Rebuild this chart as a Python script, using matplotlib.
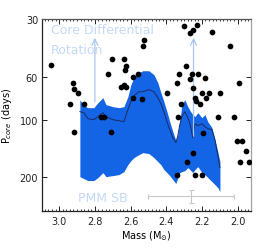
import matplotlib
matplotlib.use("Agg")
import matplotlib.pyplot as plt
from matplotlib.ticker import FixedLocator, MultipleLocator, NullLocator, FixedFormatter

# ---- data ----
star_mass = [3.047, 2.923, 2.918, 2.895, 2.940, 2.862, 2.766, 2.749, 2.705, 2.637,
             2.626, 2.632, 2.727, 2.654, 2.626, 2.637, 2.587, 2.559, 2.587, 2.536,
             2.525, 2.531, 2.396, 2.301, 2.267, 2.251, 2.228, 2.144, 2.043, 2.290,
             2.329, 2.340, 2.256, 2.223, 2.267, 2.183, 1.993, 2.251, 2.200, 2.161,
             2.099, 2.178, 2.239, 2.234, 2.211, 2.318, 2.335, 2.111, 2.021, 2.918,
             2.710, 2.194, 2.004, 1.976, 1.954, 2.251, 2.284, 1.988, 1.937, 2.340,
             2.239, 2.200]
star_pcore = [51.8, 64.3, 69.1, 72.4, 82.6, 82.6, 96.5, 96.5, 48.2, 48.2,
              52.4, 55.0, 57.7, 67.4, 67.4, 65.8, 59.8, 57.7, 76.9, 77.8,
              38.4, 41.3, 72.4, 32.5, 35.3, 34.1, 32.1, 34.9, 41.3, 52.4,
              57.7, 64.3, 57.7, 57.7, 61.3, 60.5, 64.3, 68.2, 72.4, 72.4,
              72.4, 76.9, 76.9, 79.7, 82.6, 82.6, 96.5, 96.5, 96.5, 115.5,
              115.5, 116.9, 128.6, 128.6, 145.0, 148.5, 165.4, 165.4, 165.4, 193.2,
              193.2, 193.2]

model_mass = [2.884, 2.862, 2.839, 2.806, 2.783, 2.755, 2.738, 2.699, 2.665, 2.637,
              2.615, 2.598, 2.581, 2.553, 2.531, 2.497, 2.469, 2.447, 2.430, 2.413,
              2.396, 2.380, 2.363, 2.346, 2.335, 2.324, 2.312, 2.296, 2.279, 2.267,
              2.251, 2.239, 2.223, 2.200, 2.183, 2.167, 2.144, 2.127, 2.111, 2.099]
model_p_low = [78.8, 84.6, 86.7, 86.7, 81.7, 76.9, 83.6, 85.6, 86.7, 85.6,
               76.0, 65.8, 60.5, 57.0, 55.7, 55.7, 58.4, 64.3, 72.4, 80.7,
               90.9, 102.5, 115.5, 128.6, 119.7, 102.5, 83.6, 78.8, 85.6, 89.8,
               94.2, 96.5, 92.0, 97.7, 94.2, 102.5, 110.1, 127.1, 146.8, 165.4]
model_p_med = [90.9, 92.0, 98.8, 100.1, 96.5, 92.0, 96.5, 100.1, 101.3, 102.5,
               88.8, 80.7, 75.1, 71.6, 71.6, 69.9, 71.6, 76.9, 82.6, 90.9,
               102.5, 112.8, 124.1, 131.7, 121.1, 106.2, 96.5, 90.9, 97.7, 105.0,
               124.1, 105.0, 107.5, 105.0, 108.8, 111.4, 112.8, 127.1, 153.9, 177.7]
model_p_high = [197.9, 202.6, 207.5, 207.5, 200.2, 188.6, 197.9, 195.5, 193.2, 186.4,
                171.4, 163.4, 157.6, 152.1, 148.5, 150.3, 157.6, 165.4, 171.4, 182.0,
                188.6, 195.5, 205.1, 215.1, 200.2, 188.6, 186.4, 184.2, 177.7, 182.0,
                188.6, 182.0, 175.6, 188.6, 193.2, 200.2, 210.0, 217.7, 225.7, 236.7]

arrow_mass = [2.800, 2.247]
arrow_p_start = [80.7, 122.0]
arrow_p_end = [37.5, 37.5]

err_mass = 2.262
err_p = 251.0
err_dm = 0.24
err_dp = [[20.0], [22.0]]

x_ticks = [3.0, 2.8, 2.6, 2.4, 2.2, 2.0]
y_ticks = [30, 60, 100, 200]
y_ticklabels = ["30", "60", "100", "200"]

# ---- figure ----
fig = plt.figure(figsize=(2.69, 2.51), dpi=100)
ax = fig.add_axes([0.157, 0.154, 0.776, 0.766])

band_color = "#1464e6"
light_blue = "#c4d9f7"

ax.fill_between(model_mass, model_p_low, model_p_high, color=band_color, lw=0, zorder=2)
ax.plot(model_mass, model_p_med, color="#1b2b5e", lw=0.7, zorder=3)

for m, p0, p1 in zip(arrow_mass, arrow_p_start, arrow_p_end):
    ax.annotate("", xy=(m, p1), xytext=(m, p0),
                arrowprops=dict(arrowstyle="->,head_length=0.45,head_width=0.22",
                                color="#a9c6f0", lw=0.9, shrinkA=0, shrinkB=0),
                zorder=4)

ax.scatter(star_mass, star_pcore, s=17, color="black", lw=0, zorder=5)

ax.errorbar([err_mass], [err_p], xerr=err_dm, yerr=err_dp, color="#c8c8c8",
            lw=0.8, capsize=1.8, capthick=0.8, fmt="none", zorder=3)

ax.text(3.047, 35.3, "Core Differential", color=light_blue, fontsize=9, va="baseline", ha="left")
ax.text(3.047, 44.9, "Rotation", color=light_blue, fontsize=9, va="baseline", ha="left")
ax.text(2.895, 263.6, "PMM SB", color=light_blue, fontsize=9, va="baseline", ha="left")

ax.set_yscale("log")
ax.set_ylim(300, 30)
ax.set_xlim(3.095, 1.925)

ax.yaxis.set_major_locator(FixedLocator(y_ticks))
ax.yaxis.set_major_formatter(FixedFormatter(y_ticklabels))
ax.yaxis.set_minor_locator(NullLocator())
ax.xaxis.set_major_locator(FixedLocator(x_ticks))
ax.xaxis.set_minor_locator(MultipleLocator(0.02))
ax.set_xticklabels([f"{v:.1f}" for v in x_ticks])

ax.tick_params(axis="both", which="major", direction="in", length=3.5, width=0.7,
               labelsize=7, top=True, right=True, pad=3, colors="#222222")
ax.tick_params(axis="x", which="minor", direction="in", length=1.5, width=0.6,
               top=True, colors="#222222")
ax.tick_params(axis="y", which="major", right=True)

for side, col in [("left", "#222222"), ("bottom", "#222222"), ("top", "#555555"), ("right", "#a0a0a0")]:
    ax.spines[side].set_color(col)
    ax.spines[side].set_linewidth(0.9)

ax.set_xlabel(r"Mass (M$_{\odot}$)", fontsize=7, labelpad=2)
ax.set_ylabel(r"P$_{core}$ (days)", fontsize=7, labelpad=4)

fig.savefig("out.png", dpi=100)
